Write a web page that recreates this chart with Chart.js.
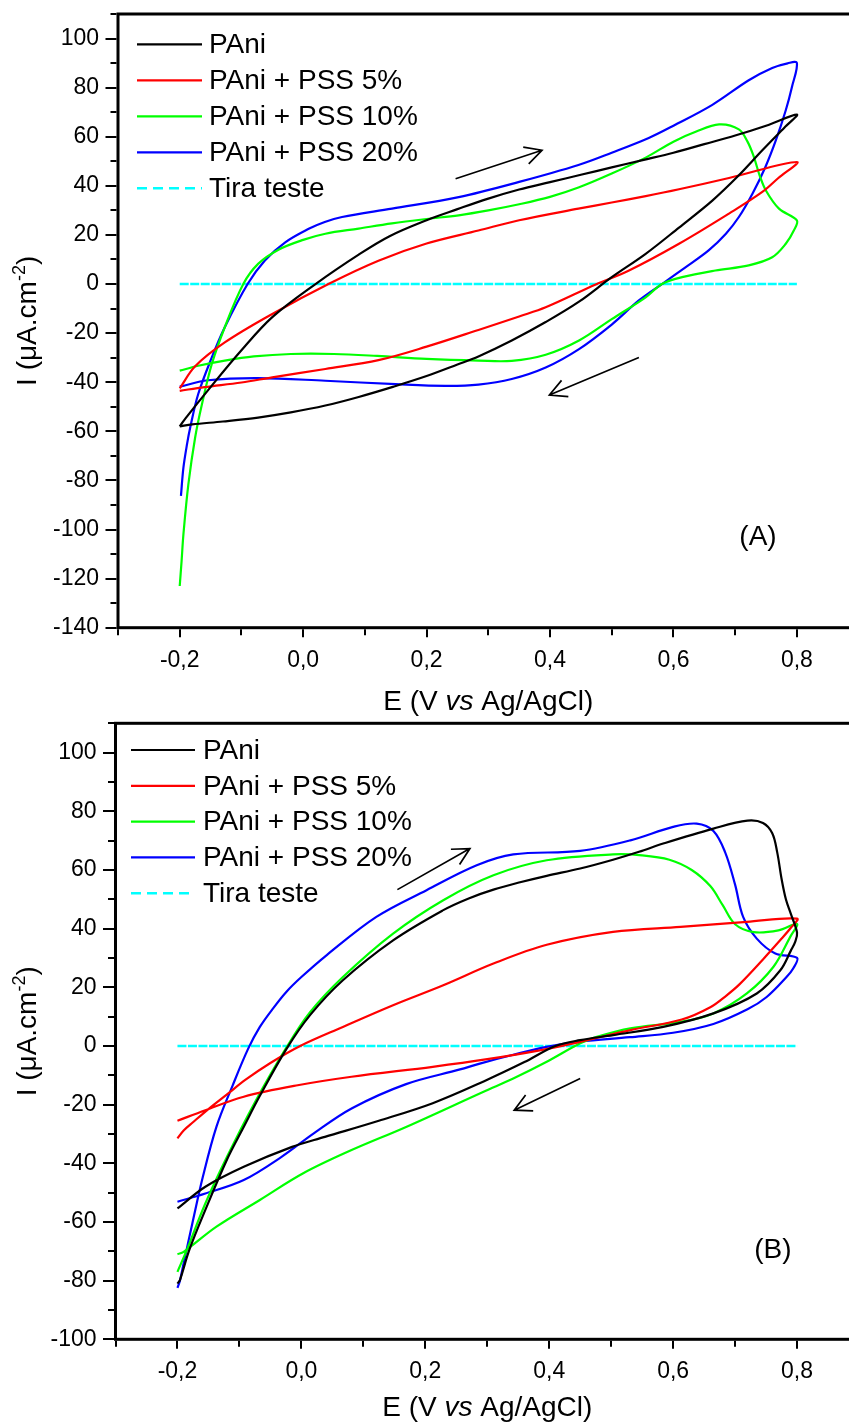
<!DOCTYPE html>
<html>
<head>
<meta charset="utf-8">
<script src="https://cdn.jsdelivr.net/npm/chart.js@4/dist/chart.umd.min.js"></script>
<style>
  html, body { margin: 0; padding: 0; background: #fff; overflow: hidden; }
  #wrap { position: relative; width: 849px; height: 1425px; overflow: hidden; background: #fff; }
  canvas { position: absolute; left: 0; }
  #cvA { top: 0; }
  #cvB { top: 700px; }
</style>
</head>
<body>
<div id="wrap">
  <canvas id="cvA" width="870" height="720"></canvas>
  <canvas id="cvB" width="870" height="725"></canvas>
</div>
<script>
// ---- Series names and colours ----
const seriesNames = ['PAni', 'PAni + PSS 5%', 'PAni + PSS 10%', 'PAni + PSS 20%', 'Tira teste'];
const seriesColors = ['#000000', '#ff0000', '#00ff00', '#0000ff', '#00ffff'];

// ---- Axis ticks ----
const xTickValues = [-0.3, -0.2, -0.1, 0, 0.1, 0.2, 0.3, 0.4, 0.5, 0.6, 0.7, 0.8, 0.9];
const xTickLabels = ['', '-0,2', '', '0,0', '', '0,2', '', '0,4', '', '0,6', '', '0,8', ''];
const yTickValuesA = [-140, -130, -120, -110, -100, -90, -80, -70, -60, -50, -40, -30, -20, -10, 0, 10, 20, 30, 40, 50, 60, 70, 80, 90, 100, 110];
const yTickLabelsA = ['-140', '', '-120', '', '-100', '', '-80', '', '-60', '', '-40', '', '-20', '', '0', '', '20', '', '40', '', '60', '', '80', '', '100', ''];
const yTickValuesB = [-100, -90, -80, -70, -60, -50, -40, -30, -20, -10, 0, 10, 20, 30, 40, 50, 60, 70, 80, 90, 100, 110];
const yTickLabelsB = ['-100', '', '-80', '', '-60', '', '-40', '', '-20', '', '0', '', '20', '', '40', '', '60', '', '80', '', '100', ''];

// ---- Panel (A): potential E (V) and current I (uA/cm2), anodic then cathodic scan ----
const eA_PAni = [-0.2, -0.19, -0.15, -0.1, -0.05, 0.02, 0.09, 0.14, 0.2, 0.25, 0.3, 0.35, 0.4, 0.45, 0.5, 0.55, 0.6, 0.65, 0.7, 0.75, 0.8,
                 0.78, 0.744, 0.706, 0.663, 0.609, 0.555, 0.5, 0.447, 0.393, 0.338, 0.284, 0.25, 0.2, 0.144, 0.09, 0.036, -0.02, -0.073, -0.13, -0.18, -0.2];
const iA_PAni = [-58, -54.5, -42, -27, -13.5, 0, 12, 19.5, 26, 30.5, 34.8, 38.5, 41.5, 44.5, 47.5, 50.5, 53.5, 57, 60.5, 64.5, 69,
                 63.8, 54.5, 44.3, 34, 23, 12.3, 2.8, -7.2, -15.5, -23, -29.5, -32.8, -37.5, -42, -46, -49.5, -52.3, -54.4, -56, -57.2, -58];

const eA_PSS5 = [-0.2, -0.175, -0.127, -0.05, 0.041, 0.122, 0.2, 0.284, 0.35, 0.446, 0.5, 0.555, 0.609, 0.69, 0.8,
                 0.77, 0.744, 0.69, 0.609, 0.528, 0.474, 0.393, 0.35, 0.284, 0.2, 0.122, 0.036, -0.05, -0.1, -0.16, -0.2];
const iA_PSS5 = [-42.5, -33.5, -23.8, -12.2, 0, 9.5, 16.5, 21.8, 26, 30.7, 33.2, 35.8, 38.6, 43.2, 49.7,
                 43.2, 37.5, 28.7, 16.4, 5.5, -0.2, -9.5, -13.2, -18.7, -25.5, -31, -34.6, -38, -40.1, -42, -43.5];

const eA_PSS10 = [-0.2, -0.197, -0.194, -0.186, -0.175, -0.164, -0.148, -0.127, -0.097, -0.073, -0.04, 0.0, 0.036, 0.09, 0.144, 0.2, 0.252, 0.3, 0.35, 0.4, 0.446, 0.5, 0.555, 0.6, 0.636, 0.674, 0.706, 0.72, 0.73, 0.74, 0.75, 0.771, 0.8,
                  0.795, 0.782, 0.76, 0.722, 0.668, 0.614, 0.582, 0.555, 0.5, 0.447, 0.393, 0.338, 0.284, 0.2, 0.12, 0.05, -0.02, -0.08, -0.127, -0.17, -0.2];
const iA_PSS10 = [-123, -113, -102, -81.6, -62.5, -49, -32.6, -17.6, 0, 8.2, 14, 18, 20.5, 22.6, 24.7, 26.5, 28, 30, 32.5, 35.5, 39.3, 45, 51.5, 58, 62, 65, 63, 58, 52, 44, 38, 30.7, 25.9,
                  21.8, 16.4, 10.9, 7.6, 5.5, 2.8, 0.1, -5.4, -14.3, -23, -28.8, -31.3, -31.2, -30.5, -29.3, -28.5, -28.5, -29.5, -31.2, -33.3, -35.3];

const eA_PSS20 = [-0.198, -0.194, -0.188, -0.183, -0.17, -0.148, -0.127, -0.09, -0.062, -0.029, 0.009, 0.035, 0.063, 0.144, 0.252, 0.35, 0.446, 0.5, 0.56, 0.6, 0.663, 0.722, 0.76, 0.785, 0.8,
                  0.792, 0.782, 0.766, 0.749, 0.728, 0.706, 0.685, 0.657, 0.62, 0.582, 0.544, 0.5, 0.447, 0.393, 0.338, 0.284, 0.23, 0.15, 0.036, -0.073, -0.154, -0.2];
const iA_PSS20 = [-86.3, -74.8, -65, -58.4, -44.8, -29.9, -17.6, 0, 9.6, 17, 22.5, 25.3, 27.3, 30.7, 35.4, 41.6, 48.5, 53.5, 59.5, 64.5, 73, 83, 88, 89.9, 90.1,
                  80.3, 70.8, 58.6, 47.7, 36.8, 27.3, 20.5, 13.7, 6.9, 0.1, -6.7, -16.5, -26.5, -34, -38.7, -41, -41.5, -40.8, -39.4, -38.3, -39.2, -41.8];

const eA_Tira = [-0.2, 0.8];
const iA_Tira = [0, 0];

// ---- Panel (B) ----
const eB_PAni = [-0.2, -0.196, -0.181, -0.155, -0.12, -0.094, -0.067, -0.024, 0.014, 0.067, 0.148, 0.229, 0.27, 0.31, 0.353, 0.396, 0.45, 0.503, 0.545, 0.584, 0.665, 0.72, 0.745, 0.76, 0.768, 0.775, 0.782, 0.79, 0.8,
                 0.797, 0.79, 0.773, 0.735, 0.665, 0.584, 0.503, 0.45, 0.41, 0.36, 0.295, 0.212, 0.125, 0.038, -0.015, -0.093, -0.155, -0.2];
const iB_PAni = [-81, -79.8, -69.6, -55.9, -38.7, -28, -17, -1, 10.5, 22.4, 36, 46.3, 50.3, 53.3, 55.8, 58, 60.5, 63.5, 66.2, 69, 74.1, 76.8, 76, 72.5, 66, 57, 50, 45, 38.6,
                 35.5, 32.5, 25.8, 17.9, 11.1, 6.5, 3.7, 2, 0, -5.5, -12, -19.5, -25.5, -31, -34.4, -41.2, -48, -55.4];

const eB_PSS5 = [-0.2, -0.19, -0.175, -0.15, -0.12, -0.09, -0.05, -0.002, 0.067, 0.148, 0.229, 0.31, 0.396, 0.503, 0.612, 0.719, 0.8,
                 0.79, 0.773, 0.745, 0.707, 0.686, 0.66, 0.614, 0.531, 0.45, 0.387, 0.3, 0.212, 0.081, -0.006, -0.093, -0.155, -0.2];
const iB_PSS5 = [-31.5, -28.8, -26, -21.5, -16.5, -11.5, -5.8, 0, 6.5, 13.9, 20.7, 28.1, 34.5, 38.9, 40.6, 42.3, 43.4,
                 40.3, 36.1, 29.5, 21, 17.2, 13.2, 9, 5.4, 1.4, -1.4, -4.5, -7.1, -10.5, -13.4, -17.3, -21.9, -25.5];

const eB_PSS10 = [-0.2, -0.185, -0.155, -0.12, -0.076, -0.024, 0.014, 0.067, 0.148, 0.229, 0.31, 0.396, 0.503, 0.55, 0.594, 0.63, 0.66, 0.68, 0.7, 0.73, 0.77, 0.8,
                  0.789, 0.762, 0.719, 0.665, 0.612, 0.531, 0.477, 0.45, 0.396, 0.342, 0.295, 0.169, 0.081, 0.003, -0.067, -0.137, -0.19, -0.2];
const iB_PSS10 = [-77, -69.6, -53.7, -37.8, -19.6, -0.5, 11.5, 23.5, 38.3, 49.7, 58.2, 63.3, 65.3, 65, 63.5, 60, 54.5, 48, 41.5, 38.8, 39.4, 41.6,
                  37.2, 27, 17.9, 11.1, 8.2, 6, 3.1, 0.9, -5.4, -11.1, -15.5, -27.6, -35.5, -43.4, -52.5, -61.6, -70.2, -71];

const eB_PSS20 = [-0.2, -0.196, -0.19, -0.176, -0.159, -0.137, -0.111, -0.086, -0.067, -0.045, -0.024, 0.0, 0.041, 0.121, 0.202, 0.283, 0.342, 0.45, 0.531, 0.6, 0.638, 0.665, 0.684, 0.7, 0.713, 0.735, 0.765, 0.8,
                  0.794, 0.783, 0.751, 0.72, 0.665, 0.6, 0.53, 0.45, 0.396, 0.342, 0.288, 0.256, 0.169, 0.081, 0.02, -0.032, -0.093, -0.155, -0.2];
const iB_PSS20 = [-82.5, -80, -74.1, -60.5, -44.6, -27.5, -13.5, -1, 6.5, 13, 18.5, 23.5, 31, 44, 53.1, 61.6, 65.3, 66.5, 70.1, 74.7, 75.8, 73.3, 66, 55, 44, 36.6, 31.5, 30,
                  26.5, 23.5, 16.7, 12.5, 7.5, 4.5, 3, 1.5, -0.3, -3, -6, -8, -13, -21.3, -29.8, -37.8, -45.7, -50.3, -53.1];

const eB_Tira = [-0.2, 0.8];
const iB_Tira = [0, 0];

// ---- Drawing helpers ----
const FONT = '"Liberation Sans", Arial, Helvetica, sans-serif';
Chart.defaults.font.family = FONT;
Chart.defaults.color = '#000';

function toPoints(e, i) {
  return e.map((v, k) => ({ x: v, y: i[k] }));
}

function buildDatasets(pairs) {
  return pairs.map(([e, i], k) => ({
    label: seriesNames[k],
    data: toPoints(e, i),
    borderColor: seriesColors[k],
    backgroundColor: seriesColors[k],
    borderWidth: k === 4 ? 2.6 : 2.2,
    borderDash: k === 4 ? [9, 1.5] : [],
    pointRadius: 0,
    pointHoverRadius: 0,
    showLine: true,
    fill: false,
    tension: k === 4 ? 0 : 0.35
  }));
}

// draws a run of text pieces (different fonts / offsets) centred at 0 on the baseline
function drawRich(ctx, pieces) {
  let total = 0;
  pieces.forEach(p => { ctx.font = p.font; p.w = ctx.measureText(p.text).width; total += p.w; });
  let x = -total / 2;
  pieces.forEach(p => {
    ctx.font = p.font;
    ctx.fillText(p.text, x, p.dy || 0);
    x += p.w;
  });
}

function drawArrow(ctx, x0, y0, x1, y1) {
  const ang = Math.atan2(y1 - y0, x1 - x0);
  const len = 19, spread = 0.48;
  ctx.beginPath();
  ctx.moveTo(x0, y0);
  ctx.lineTo(x1, y1);
  ctx.moveTo(x1 - len * Math.cos(ang - spread), y1 - len * Math.sin(ang - spread));
  ctx.lineTo(x1, y1);
  ctx.lineTo(x1 - len * Math.cos(ang + spread), y1 - len * Math.sin(ang + spread));
  ctx.stroke();
}

// frame, tick marks, axis titles, legend, arrows and panel tag
const decorPlugin = {
  id: 'decor',
  afterDatasetsDraw(chart, args, o) {
    const { ctx, chartArea: a, scales: { x, y } } = chart;
    ctx.save();
    ctx.strokeStyle = '#000';
    ctx.fillStyle = '#000';
    ctx.lineCap = 'butt';
    ctx.lineJoin = 'miter';

    // frame
    ctx.lineWidth = 3;
    ctx.strokeRect(a.left, a.top, a.right - a.left, a.bottom - a.top);

    // tick marks (outward)
    ctx.lineWidth = 2;
    ctx.beginPath();
    y.ticks.forEach((t, k) => {
      const p = Math.round(y.getPixelForValue(t.value));
      const len = o.yLabels[k] ? 11 : 6;
      ctx.moveTo(a.left - 1.5, p);
      ctx.lineTo(a.left - 1.5 - len, p);
    });
    x.ticks.forEach((t, k) => {
      const p = Math.round(x.getPixelForValue(t.value));
      const len = xTickLabels[k] ? 8 : 6;
      ctx.moveTo(p, a.bottom + 1.5);
      ctx.lineTo(p, a.bottom + 1.5 + len);
    });
    ctx.stroke();

    // axis titles
    const big = '28px ' + FONT;
    ctx.textBaseline = 'alphabetic';
    ctx.textAlign = 'left';
    ctx.save();
    ctx.translate((a.left + a.right) / 2, a.bottom + o.xTitleOffset);
    drawRich(ctx, [
      { text: 'E (V ', font: big },
      { text: 'vs', font: 'italic 28px ' + FONT },
      { text: ' Ag/AgCl)', font: big }
    ]);
    ctx.restore();
    ctx.save();
    ctx.translate(o.yTitleX, (a.top + a.bottom) / 2);
    ctx.rotate(-Math.PI / 2);
    drawRich(ctx, [
      { text: 'I (', font: big },
      { text: 'μ', font: big },
      { text: 'A.cm', font: big },
      { text: '-2', font: '18px ' + FONT, dy: -11 },
      { text: ')', font: big }
    ]);
    ctx.restore();

    // legend
    const lg = o.legend;
    ctx.font = big;
    ctx.textBaseline = 'middle';
    ctx.textAlign = 'left';
    chart.data.datasets.forEach((ds, k) => {
      const ry = a.top + lg.dy + k * lg.step;
      ctx.strokeStyle = ds.borderColor;
      ctx.lineWidth = k === 4 ? 2.6 : 2.2;
      ctx.setLineDash(k === 4 ? [10, 6] : []);
      ctx.beginPath();
      ctx.moveTo(a.left + lg.x0, ry);
      ctx.lineTo(a.left + lg.x1, ry);
      ctx.stroke();
      ctx.setLineDash([]);
      ctx.fillStyle = '#000';
      ctx.fillText(ds.label, a.left + lg.tx, ry + 1);
    });

    // scan-direction arrows
    ctx.strokeStyle = '#000';
    ctx.lineWidth = 1.7;
    o.arrows.forEach(([e0, i0, e1, i1]) => {
      drawArrow(ctx, x.getPixelForValue(e0), y.getPixelForValue(i0), x.getPixelForValue(e1), y.getPixelForValue(i1));
    });

    // panel tag
    ctx.fillStyle = '#000';
    ctx.font = big;
    ctx.textAlign = 'center';
    ctx.textBaseline = 'middle';
    ctx.fillText(o.tag.text, x.getPixelForValue(o.tag.e), y.getPixelForValue(o.tag.i));
    ctx.restore();
  }
};

function buildChart(id, geo, datasets, yMin, yTicks, yLabels, decor) {
  return new Chart(document.getElementById(id), {
    type: 'scatter',
    data: { datasets },
    options: {
      responsive: false,
      animation: false,
      events: [],
      layout: { padding: { top: geo.top, right: geo.right, left: 0, bottom: 0 } },
      scales: {
        x: {
          type: 'linear', min: -0.3, max: 0.9,
          afterBuildTicks: s => { s.ticks = xTickValues.map(v => ({ value: v })); },
          afterFit: s => { s.height = geo.xAxisHeight; s.paddingLeft = 0; s.paddingRight = 0; },
          grid: { display: false, drawTicks: false },
          border: { display: false },
          ticks: {
            callback: (v, k) => xTickLabels[k],
            autoSkip: false, maxRotation: 0, minRotation: 0,
            padding: 19, color: '#000', font: { family: FONT, size: 23 }
          }
        },
        y: {
          type: 'linear', min: yMin, max: 110,
          afterBuildTicks: s => { s.ticks = yTicks.map(v => ({ value: v })); },
          afterFit: s => { s.width = geo.left; s.paddingTop = 0; s.paddingBottom = 0; },
          grid: { display: false, drawTicks: false },
          border: { display: false },
          ticks: {
            callback: (v, k) => yLabels[k],
            autoSkip: false,
            padding: 19, color: '#000', font: { family: FONT, size: 23 }
          }
        }
      },
      plugins: {
        legend: { display: false },
        tooltip: { enabled: false },
        decor: Object.assign({ yLabels }, decor)
      }
    },
    plugins: [decorPlugin]
  });
}

buildChart('cvA',
  { top: 14, right: 11.4, left: 118, xAxisHeight: 92.3 },
  buildDatasets([[eA_PAni, iA_PAni], [eA_PSS5, iA_PSS5], [eA_PSS10, iA_PSS10], [eA_PSS20, iA_PSS20], [eA_Tira, iA_Tira]]),
  -140, yTickValuesA, yTickLabelsA,
  {
    xTitleOffset: 82, yTitleX: 36,
    legend: { x0: 19, x1: 84, tx: 91, dy: 30.3, step: 36 },
    arrows: [[0.247, 42.9, 0.387, 54.5], [0.544, -29.9, 0.399, -45.2]],
    tag: { text: '(A)', e: 0.737, i: -103.3 }
  });

buildChart('cvB',
  { top: 23.3, right: 11, left: 115.5, xAxisHeight: 85.7 },
  buildDatasets([[eB_PAni, iB_PAni], [eB_PSS5, iB_PSS5], [eB_PSS10, iB_PSS10], [eB_PSS20, iB_PSS20], [eB_Tira, iB_Tira]]),
  -100, yTickValuesB, yTickLabelsB,
  {
    xTitleOffset: 77, yTitleX: 36,
    legend: { x0: 15.5, x1: 79.5, tx: 87.5, dy: 26.7, step: 35.8 },
    arrows: [[0.155, 53.3, 0.272, 67.3], [0.45, -11.1, 0.3435, -21.9]],
    tag: { text: '(B)', e: 0.761, i: -69.6 }
  });
</script>
</body>
</html>
